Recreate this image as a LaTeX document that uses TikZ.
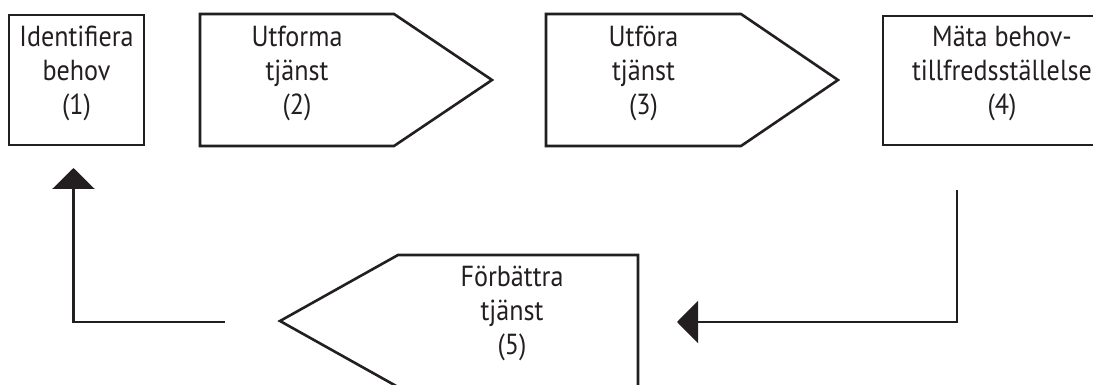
\documentclass[tikz,border=0pt]{standalone}
\usepackage{fontspec}
\setmainfont{PT Sans}[FakeStretch=0.9]
\usetikzlibrary{arrows.meta,calc}
\definecolor{ink}{RGB}{35,31,32}
\begin{document}
\begin{tikzpicture}[x=1pt,y=-1pt,
  boxline/.style={draw=ink,line width=2.6pt,line join=miter},
  stagebox/.style={rectangle,inner sep=0pt,outer sep=0pt},
  lbl/.style={align=center,font=\fontsize{29}{34}\selectfont,text=ink,inner sep=0pt},
  conn/.style={draw=ink,line width=2.5pt,-{Triangle[length=21pt,width=42pt]}}]
\useasboundingbox (0,0) rectangle (1093,385);
\clip (0,0) rectangle (1093,385);

% plain boxes
\node[stagebox,boxline,minimum width=135pt,minimum height=130pt] (n1) at (76.5,80) {};
\node[stagebox,boxline,minimum width=238pt,minimum height=129pt] (n4) at (1002,80.5) {};

% pentagon steps: rectangular body plus a pointed end
\node[stagebox,minimum width=194pt,minimum height=132pt] (n2) at (297,80) {};
\draw[boxline] (n2.north west) -- (n2.north east) -- ($(n2.east)+(98,0)$)
  -- (n2.south east) -- (n2.south west) -- cycle;
\node[stagebox,minimum width=195pt,minimum height=132pt] (n3) at (643.5,80) {};
\draw[boxline] (n3.north west) -- (n3.north east) -- ($(n3.east)+(97,0)$)
  -- (n3.south east) -- (n3.south west) -- cycle;
\node[stagebox,minimum width=240pt,minimum height=132pt] (n5) at (518,321) {};
\draw[boxline] (n5.north east) -- (n5.north west) -- ($(n5.west)+(-118,0)$)
  -- (n5.south west) -- (n5.south east) -- cycle;

% labels
\node[lbl] (t1) at ($(n1.center)+(0,-6.5)$) {Identifiera\\behov\\(1)};
\node[lbl] (t2) at ($(n2.center)+(0,-6.5)$) {Utforma\\tjänst\\(2)};
\node[lbl] (t3) at ($(n3.center)+(0,-6.5)$) {Utföra\\tjänst\\(3)};
\node[lbl] (t4) at ($(n4.center)+(0,-7)$) {Mäta behov-\\tillfredsställelse\\(4)};
\node[lbl] (t5) at ($(n5.center)+(-6,-7.5)$) {Förbättra\\tjänst\\(5)};

% feedback connectors
\coordinate (a4) at ($(n4.south west)+(74,45)$);
\coordinate (b5) at ($(n5.east)+(39,1)$);
\coordinate (a5) at ($(n5.west)+(-173,1)$);
\coordinate (b1) at ($(n1.south)+(-3,23)$);
\draw[conn] (a4) |- (b5);
\draw[conn] (a5) -| (b1);
\end{tikzpicture}
\end{document}
